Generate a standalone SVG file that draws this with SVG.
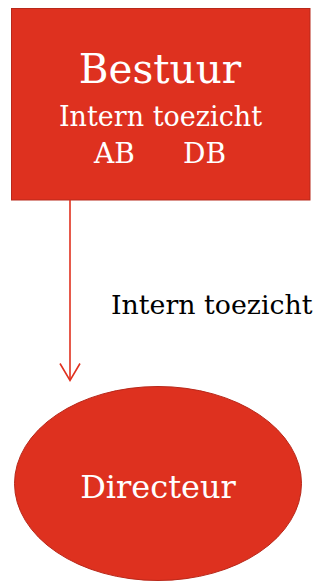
<svg xmlns="http://www.w3.org/2000/svg" width="322" height="581" viewBox="0 0 322 581">
  <defs>
    <style>
      .shape { fill: #DE311F; stroke: #B8281A; stroke-width: 1; }
      .wt { fill: #FFFFFF; font-family: "DejaVu Serif", "Liberation Serif", serif; text-anchor: middle; }
      .lbl { fill: #000000; font-family: "DejaVu Serif", "Liberation Serif", serif; }
      .conn { stroke: #E0301E; stroke-width: 1.6; fill: none; }
    </style>
  </defs>
  <rect width="322" height="581" fill="#FFFFFF"/>
  <g id="bestuur">
    <rect class="shape" x="11.5" y="8.5" width="298.5" height="191.5"/>
    <text class="wt" x="160" y="83" font-size="40.5">Bestuur</text>
    <text class="wt" x="160.5" y="126" font-size="27">Intern toezicht</text>
    <text class="wt" x="114.5" y="163" font-size="28">AB</text>
    <text class="wt" x="204.5" y="163" font-size="28">DB</text>
  </g>
  <g id="connectors">
    <line class="conn" x1="70" y1="200" x2="70" y2="380"/>
    <polyline class="conn" points="60,363.5 70,380.5 80,363.5"/>
    <text class="lbl" x="111" y="314" font-size="26.8">Intern toezicht</text>
  </g>
  <g id="directeur">
    <ellipse class="shape" cx="158" cy="483.5" rx="143.5" ry="97"/>
    <text class="wt" x="158" y="498" font-size="32">Directeur</text>
  </g>
</svg>
